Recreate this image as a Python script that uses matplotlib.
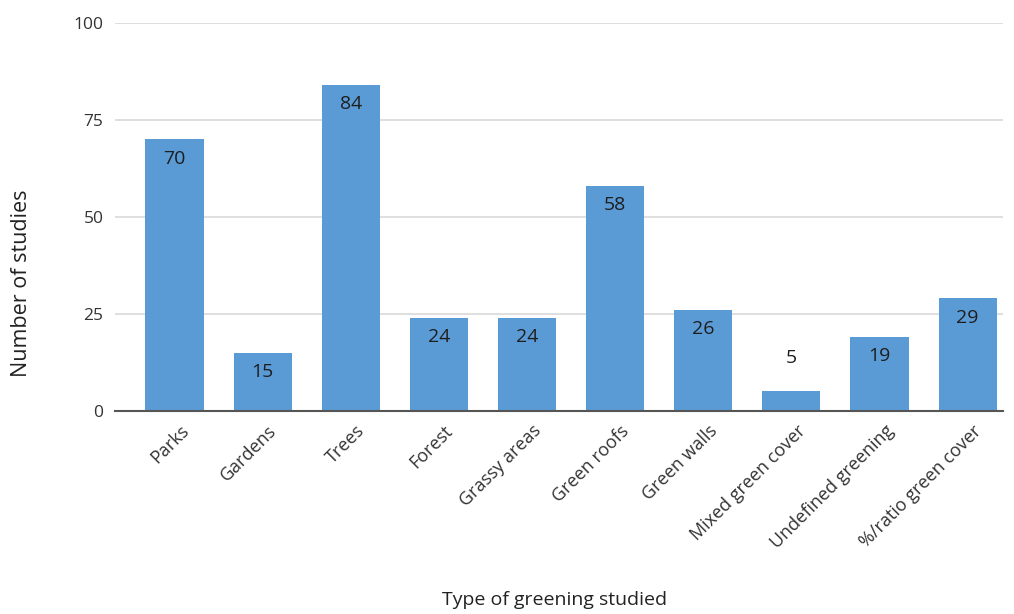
import matplotlib
matplotlib.use("Agg")
from matplotlib import pyplot as plt
from matplotlib import transforms
import numpy as np

categories = ['Parks', 'Gardens', 'Trees', 'Forest', 'Grassy areas', 'Green roofs',
              'Green walls', 'Mixed green cover', 'Undefined greening', '%/ratio green cover']
counts = [70, 15, 84, 24, 24, 58, 26, 5, 19, 29]
yticks = [0, 25, 50, 75, 100]

plt.rcParams['font.family'] = ['Open Sans', 'DejaVu Sans']

fig = plt.figure(figsize=(10.14, 6.14), dpi=100)
ax = fig.add_axes([0.113, 0.331, 0.876, 0.6315])

x = np.arange(len(categories))
bars = ax.bar(x, counts, width=0.66, color='#5b9bd5', zorder=3)

# value labels: inside the bar top, above it for short bars
for xi, v in zip(x, counts):
    if v < 10:
        ax.text(xi, v + 8.5, str(v), ha='center', va='center', fontsize=14, color='#1e1e1e')
    else:
        ax.text(xi, v - 5.0, str(v), ha='center', va='center', fontsize=14, color='#1e1e1e')

ax.set_xlim(-0.68, len(categories) - 1 + 0.4)
ax.set_ylim(0, 100)
ax.set_yticks(yticks)
ax.set_yticklabels([str(t) for t in yticks], fontsize=12.5, color='#333333')
ax.yaxis.grid(True, color='#d9d9d9', linewidth=1.2, zorder=0)
ax.tick_params(axis='y', length=0, pad=8)
ax.tick_params(axis='x', length=0, pad=8)

ax.set_xticks(x)
ax.set_xticklabels(categories, rotation=45, ha='right', rotation_mode='anchor',
                   fontsize=13, color='#333333')
shift = transforms.ScaledTranslation(5 / 100, 0, fig.dpi_scale_trans)
for lbl in ax.get_xticklabels():
    lbl.set_transform(lbl.get_transform() + shift)

for s in ['top', 'right', 'left']:
    ax.spines[s].set_visible(False)
ax.spines['bottom'].set_color('#555555')
ax.spines['bottom'].set_linewidth(1.5)
ax.spines['bottom'].set_zorder(4)

fig.text(0.021, 0.539, 'Number of studies', rotation=90, ha='center', va='center',
         fontsize=15.5, color='#222222')
fig.text(0.547, 0.022, 'Type of greening studied', ha='center', va='center',
         fontsize=14, color='#222222')

fig.savefig('out.png', dpi=100, facecolor='white')
